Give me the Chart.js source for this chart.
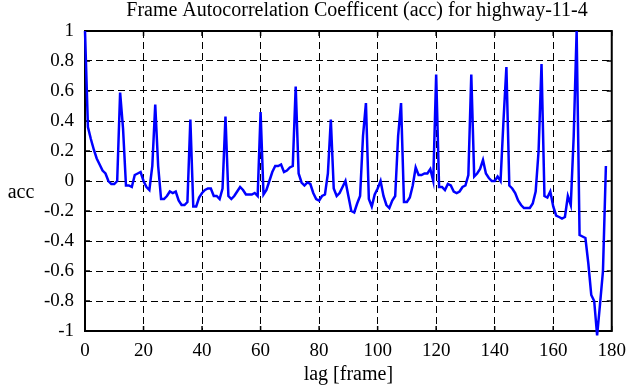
<!DOCTYPE html>
<html>
<head>
<meta charset="utf-8">
<title>acc highway-11-4</title>
<script src="https://cdn.jsdelivr.net/npm/chart.js@4/dist/chart.umd.min.js"></script>
<style>
    html, body { margin: 0; padding: 0; background: #fff; }
    #wrap { width: 635px; height: 387px; position: relative; }
</style>
</head>
<body>
<div id="wrap"><canvas id="chart-acc"></canvas></div>
<script>
// Autocorrelation per lag (frame), lag = index
const accValues = [
    1.00, 0.36, 0.28, 0.21, 0.15, 0.11, 0.07, 0.05, 0.00, -0.02,
    -0.02, 0.00, 0.59, 0.35, -0.03, -0.03, -0.04, 0.04, 0.05, 0.06,
    0.00, -0.04, -0.06, 0.10, 0.51, 0.10, -0.12, -0.12, -0.10, -0.07,
    -0.08, -0.07, -0.13, -0.16, -0.16, -0.14, 0.41, -0.17, -0.17, -0.11,
    -0.08, -0.06, -0.05, -0.05, -0.10, -0.10, -0.12, -0.05, 0.43, -0.10,
    -0.12, -0.10, -0.07, -0.04, -0.06, -0.09, -0.09, -0.09, -0.08, -0.10,
    0.46, -0.09, -0.06, 0.00, 0.06, 0.10, 0.10, 0.11, 0.06, 0.07,
    0.09, 0.10, 0.63, 0.05, -0.01, -0.03, -0.01, -0.02, -0.08, -0.12,
    -0.13, -0.10, -0.09, 0.05, 0.41, -0.05, -0.10, -0.08, -0.04, 0.00,
    -0.10, -0.20, -0.21, -0.15, -0.10, 0.30, 0.52, -0.12, -0.17, -0.09,
    -0.05, 0.00, -0.10, -0.16, -0.18, -0.13, -0.10, 0.30, 0.52, -0.14,
    -0.14, -0.11, -0.03, 0.09, 0.04, 0.04, 0.05, 0.05, 0.08, 0.00,
    0.71, -0.04, -0.04, -0.06, -0.02, -0.03, -0.07, -0.08, -0.07, -0.04,
    -0.03, 0.04, 0.71, 0.03, 0.05, 0.08, 0.14, 0.05, 0.02, 0.00,
    0.00, 0.03, 0.00, 0.40, 0.76, -0.03, -0.05, -0.08, -0.13, -0.16,
    -0.18, -0.18, -0.18, -0.15, -0.07, 0.20, 0.78, -0.10, -0.11, -0.07,
    -0.17, -0.23, -0.24, -0.25, -0.24, -0.10, -0.16, 0.30, 1.00, -0.36,
    -0.37, -0.38, -0.55, -0.76, -0.80, -1.03, -0.82, -0.60, 0.10
];
const lags = accValues.map((v, i) => i);
const xTicks = [0, 20, 40, 60, 80, 100, 120, 140, 160, 180];
const yTicks = [-1, -0.8, -0.6, -0.4, -0.2, 0, 0.2, 0.4, 0.6, 0.8, 1];

const titre = 'Frame Autocorrelation Coefficent (acc) for highway-11-4';
const xLabel = 'lag [frame]';
const yLabel = 'acc';

const POLICE = '"Liberation Serif", "DejaVu Serif", serif';

// cadre + petites graduations vers l'intérieur (style gnuplot) + textes
const cadrePlugin = {
    id: 'cadre',
    beforeDatasetsDraw(chart) {
        const { ctx, chartArea: a, scales } = chart;
        ctx.save();
        ctx.strokeStyle = '#000';
        ctx.lineWidth = 2;
        ctx.strokeRect(a.left, a.top, a.right - a.left, a.bottom - a.top);
        ctx.lineWidth = 1.5;
        const L = 5;
        ctx.beginPath();
        xTicks.forEach(t => {
            const x = scales.x.getPixelForValue(t);
            ctx.moveTo(x, a.bottom); ctx.lineTo(x, a.bottom - L);
            ctx.moveTo(x, a.top); ctx.lineTo(x, a.top + L);
        });
        yTicks.forEach(t => {
            const y = scales.y.getPixelForValue(t);
            ctx.moveTo(a.left, y); ctx.lineTo(a.left + L, y);
            ctx.moveTo(a.right, y); ctx.lineTo(a.right - L, y);
        });
        ctx.stroke();
        ctx.restore();
    },
    afterDraw(chart) {
        const { ctx, chartArea: a } = chart;
        ctx.save();
        ctx.fillStyle = '#000';
        ctx.textAlign = 'center';
        ctx.textBaseline = 'middle';
        ctx.font = '20px ' + POLICE;
        ctx.fillText(titre, 357, 11);
        ctx.fillText(xLabel, (a.left + a.right) / 2, 375);
        ctx.fillText(yLabel, 21, 193);
        ctx.restore();
    }
};

const ctx = document.getElementById('chart-acc').getContext('2d');
new Chart(ctx, {
    type: 'line',
    data: {
        labels: lags,
        datasets: [{
            data: lags.map((l, i) => ({ x: l, y: accValues[i] })),
            borderColor: '#0000ff',
            borderWidth: 2.5,
            pointRadius: 0,
            tension: 0,
            fill: false,
            clip: false
        }]
    },
    options: {
        responsive: true,
        maintainAspectRatio: false,
        animation: false,
        layout: { padding: { top: 31, right: 22, bottom: 0, left: 0 } },
        plugins: {
            legend: { display: false },
            title: { display: false },
            tooltip: { enabled: false }
        },
        scales: {
            x: {
                type: 'linear',
                min: 0,
                max: 180,
                afterFit(scale) { scale.height = 56; },
                afterBuildTicks(scale) { scale.ticks = xTicks.map(v => ({ value: v })); },
                grid: { color: '#000', lineWidth: 1, drawTicks: false },
                border: { display: false, dash: [7, 4] },
                ticks: {
                    color: '#000',
                    padding: 9,
                    font: { family: POLICE, size: 19 },
                    maxRotation: 0
                }
            },
            y: {
                min: -1,
                max: 1,
                afterFit(scale) { scale.width = 85; },
                afterBuildTicks(scale) { scale.ticks = yTicks.map(v => ({ value: v })); },
                grid: { color: '#000', lineWidth: 1, drawTicks: false },
                border: { display: false, dash: [7, 4] },
                ticks: {
                    color: '#000',
                    padding: 11,
                    font: { family: POLICE, size: 19 },
                    callback: v => String(+(+v).toFixed(1))
                }
            }
        }
    },
    plugins: [cadrePlugin]
});
</script>
</body>
</html>
